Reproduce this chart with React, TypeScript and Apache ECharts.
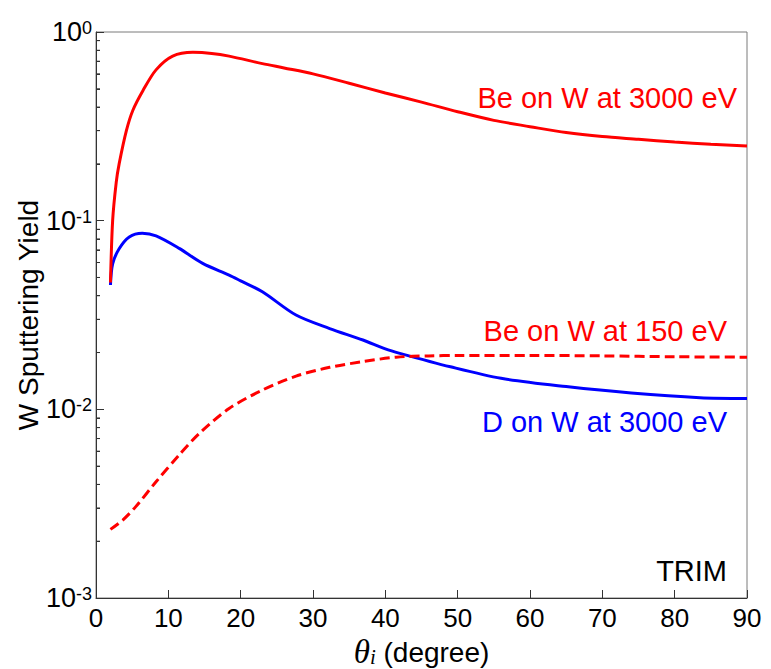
import React, { useEffect, useRef } from "react";
import * as echarts from "echarts";

// Be on W at 3000 eV (red solid)
const beHighTheta = [2, 2.3, 2.8, 3.2, 4.2, 5.1, 6.5, 8.3, 10.6, 13.4, 16, 18.4, 23, 26, 30, 35, 40, 45, 50, 55, 60, 65, 70, 75, 80, 85, 90];
const beHighYield = [0.047, 0.1, 0.16, 0.2, 0.3, 0.385, 0.49, 0.63, 0.745, 0.78, 0.77, 0.745, 0.68, 0.645, 0.6, 0.535, 0.475, 0.425, 0.378, 0.34, 0.315, 0.293, 0.279, 0.27, 0.261, 0.254, 0.249];

// D on W at 3000 eV (blue solid)
const dTheta = [2, 2.3, 3.2, 4.6, 6.4, 8.3, 11.5, 14.75, 18.4, 20, 23, 27.65, 32.3, 36.9, 40, 42, 49, 56, 65, 74, 83.5, 90];
const dYield = [0.0456, 0.059, 0.071, 0.082, 0.0857, 0.083, 0.0713, 0.0594, 0.0515, 0.048, 0.042, 0.0316, 0.0268, 0.0233, 0.0209, 0.0198, 0.0168, 0.0146, 0.0132, 0.0122, 0.01153, 0.01143];

// Be on W at 150 eV (red dashed)
const beLowTheta = [2, 3.7, 5.5, 8.3, 11.5, 14.3, 18.4, 23, 27.65, 32.3, 36.9, 41.5, 46, 50, 60, 70, 80, 90];
const beLowYield = [0.00231, 0.00259, 0.00305, 0.00413, 0.00573, 0.00746, 0.0101, 0.01265, 0.015, 0.0167, 0.0179, 0.0189, 0.0192, 0.0193, 0.0193, 0.0192, 0.019, 0.0189];

// minor ticks of the log axis
const minorTickValues = [
  0.002, 0.003, 0.004, 0.005, 0.006, 0.007, 0.008, 0.009,
  0.02, 0.03, 0.04, 0.05, 0.06, 0.07, 0.08, 0.09,
  0.2, 0.3, 0.4, 0.5, 0.6, 0.7, 0.8, 0.9,
];

const xTicks = { min: 0, max: 90, interval: 10 };
const yRange = { min: 0.001, max: 1 };

const labels = [
  { text: "Be on W at 3000 eV", color: "#ff0000" },
  { text: "Be on W at 150 eV", color: "#ff0000" },
  { text: "D on W at 3000 eV", color: "#0000ff" },
  { text: "TRIM", color: "#000000" },
];

const SANS = '"Liberation Sans", Arial, sans-serif';
const SERIF = '"Liberation Serif", "Times New Roman", serif';

const zip = (xs: number[], ys: number[]) => xs.map((x, i) => [x, ys[i]]);

export default function App() {
  const ref = useRef<HTMLDivElement>(null);
  useEffect(() => {
    if (!ref.current) return;
    const chart = echarts.init(ref.current, null, { renderer: "svg" });
    const labelPos = [
      { x: 737, y: 98 },
      { x: 727, y: 331 },
      { x: 727, y: 422 },
      { x: 727, y: 571 },
    ];
    chart.setOption({
      animation: false,
      backgroundColor: "#ffffff",
      grid: {
        left: 96,
        right: 24,
        top: 32,
        bottom: 71,
        containLabel: false,
        outerBoundsMode: "none",
        show: true,
        borderColor: "#7a7a7a",
        borderWidth: 1,
        backgroundColor: "transparent",
      },
      xAxis: {
        type: "value",
        min: xTicks.min,
        max: xTicks.max,
        interval: xTicks.interval,
        splitLine: { show: false },
        axisLine: { show: true, lineStyle: { color: "#333", width: 1 } },
        axisTick: { show: true, inside: true, length: 8, lineStyle: { color: "#333" } },
        axisLabel: { fontSize: 26, color: "#000", fontFamily: SANS, margin: 7 },
        name: "{t|θ}{i|i}{n| (degree)}",
        nameLocation: "middle",
        nameGap: 34,
        nameTextStyle: {
          rich: {
            t: { fontFamily: SERIF, fontStyle: "italic", fontSize: 33, color: "#000", lineHeight: 30 },
            i: { fontFamily: SERIF, fontStyle: "italic", fontSize: 21, color: "#000", verticalAlign: "bottom", lineHeight: 30 },
            n: { fontFamily: SANS, fontSize: 28, color: "#000", lineHeight: 30 },
          },
        },
      },
      yAxis: [
        {
          type: "log",
          logBase: 10,
          min: yRange.min,
          max: yRange.max,
          splitLine: { show: false },
          minorTick: { show: false },
          axisLine: { show: true, lineStyle: { color: "#333", width: 1 } },
          axisTick: { show: true, inside: true, length: 8, lineStyle: { color: "#333" } },
          axisLabel: {
            margin: 4,
            formatter: (v: number) => {
              const e = Math.round(Math.log10(v));
              return `{b|10}{s|${e}}`;
            },
            rich: {
              b: { fontSize: 27, fontFamily: SANS, color: "#000", lineHeight: 26 },
              s: { fontSize: 18, fontFamily: SANS, color: "#000", verticalAlign: "top", lineHeight: 17 },
            },
          },
          name: "W Sputtering Yield",
          nameLocation: "middle",
          nameMoveOverlap: false,
          nameGap: 54,
          nameTextStyle: { fontSize: 28, fontFamily: SANS, color: "#000" },
        },
        {
          type: "log",
          logBase: 10,
          min: yRange.min,
          max: yRange.max,
          position: "left",
          splitLine: { show: false },
          axisLine: { show: false },
          axisLabel: { show: false },
          axisTick: {
            show: true,
            inside: true,
            length: 4,
            customValues: minorTickValues,
            lineStyle: { color: "#333" },
          },
        },
      ],
      series: [
        {
          type: "line",
          data: zip(beHighTheta, beHighYield),
          showSymbol: false,
          smooth: 0.3,
          lineStyle: { color: "#ff0000", width: 3 },
          z: 3,
        },
        {
          type: "line",
          data: zip(dTheta, dYield),
          showSymbol: false,
          smooth: 0.3,
          lineStyle: { color: "#0000ff", width: 3 },
          z: 2,
        },
        {
          type: "line",
          data: zip(beLowTheta, beLowYield),
          showSymbol: false,
          smooth: 0.3,
          lineStyle: { color: "#ff0000", width: 3, type: [10, 5] },
          z: 4,
        },
        {
          type: "custom",
          silent: true,
          clip: false,
          data: minorTickValues.map((v) => [0, v]),
          encode: { x: 0, y: 1 },
          renderItem: (params: any, api: any) => {
            const p = api.coord([0, api.value(1)]);
            return {
              type: "line",
              shape: { x1: p[0], y1: p[1], x2: p[0] + 4, y2: p[1] },
              style: { stroke: "#333", lineWidth: 1 },
            };
          },
          z: 5,
        },
      ],
      graphic: labels.map((l, i) => ({
        type: "text",
        x: labelPos[i].x,
        y: labelPos[i].y,
        style: {
          text: l.text,
          fill: l.color,
          fontSize: 29,
          fontFamily: SANS,
          align: "right",
          verticalAlign: "middle",
        },
        z: 10,
      })),
    });
    return () => chart.dispose();
  }, []);
  return (
    <div
      ref={ref}
      style={{ position: "fixed", left: 0, top: 0, width: 771, height: 669, background: "#fff" }}
    />
  );
}
